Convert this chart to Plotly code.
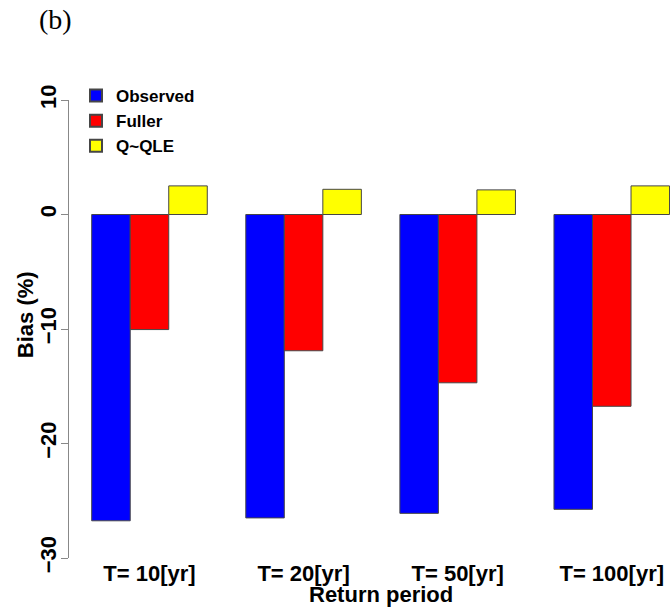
import plotly.graph_objects as go

categories = ["T= 10[yr]", "T= 20[yr]", "T= 50[yr]", "T= 100[yr]"]
observed = [-26.75, -26.5, -26.1, -25.75]
fuller = [-10.05, -11.9, -14.7, -16.75]
qqle = [2.5, 2.2, 2.15, 2.5]
y_ticks = [10, 0, -10, -20, -30]
series_names = ["Observed", "Fuller", "Q~QLE"]
series_colors = ["#0000FF", "#FF0000", "#FFFF00"]

W, H = 670, 610
L, R, T, B = 69, 0, 100, 52.3
pw, ph = W - L - R, H - T - B

def px2paper_x(px):
    return (px - L) / pw

def px2paper_y(py):
    return (H - B - py) / ph

fig = go.Figure()
for name, vals, col in zip(series_names, [observed, fuller, qqle], series_colors):
    fig.add_trace(go.Bar(
        x=categories, y=vals, name=name,
        marker=dict(color=col, line=dict(color="rgb(70,70,70)", width=1)),
    ))

font_fam = "Liberation Sans, Arial, sans-serif"

fig.update_layout(
    width=W, height=H,
    margin=dict(l=L, r=R, t=T, b=B, pad=0),
    paper_bgcolor="white", plot_bgcolor="white",
    barmode="group", bargap=0.25, bargroupgap=0,
    font=dict(family=font_fam, color="black"),
    showlegend=True,
    legend=dict(
        x=px2paper_x(76), y=px2paper_y(78), xanchor="left", yanchor="top",
        bgcolor="rgba(0,0,0,0)",
        font=dict(size=17, weight="bold", family=font_fam, color="black"),
        tracegroupgap=0, itemsizing="constant",
    ),
    xaxis=dict(
        type="category", range=[-0.5223, 3.378],
        showline=False, showgrid=False, zeroline=False, ticks="",
        tickfont=dict(size=22, weight="bold", family=font_fam, color="black"),
    ),
    yaxis=dict(
        range=[-30, 10], tickvals=y_ticks, ticktext=[str(v).replace("-", "\u2212") for v in y_ticks],
        showline=True, linecolor="#888888", linewidth=1,
        ticks="outside", ticklen=7, tickcolor="#888888", tickwidth=1,
        showgrid=False, zeroline=False, tickangle=-90,
        ticklabelstandoff=-4,
        tickfont=dict(size=22, weight="bold", family=font_fam, color="black"),
    ),
    annotations=[
        dict(text="Bias (%)", xref="paper", yref="paper",
             x=px2paper_x(25), y=px2paper_y(315), xanchor="center", yanchor="middle",
             textangle=-90, showarrow=False,
             font=dict(size=22, weight="bold", family=font_fam, color="black")),
        dict(text="Return period", xref="paper", yref="paper",
             x=px2paper_x(381), y=px2paper_y(594), xanchor="center", yanchor="middle",
             showarrow=False,
             font=dict(size=22, weight="bold", family=font_fam, color="black")),
        dict(text="(b)", xref="paper", yref="paper",
             x=px2paper_x(55.5), y=px2paper_y(20), xanchor="center", yanchor="middle",
             showarrow=False,
             font=dict(size=28, family="Liberation Serif, Times New Roman, serif", color="black")),
    ],
)

fig.write_html(
    "out.html",
    config={"displayModeBar": False},
    post_script="document.body.style.margin='0';document.body.style.overflow='hidden';",
)
